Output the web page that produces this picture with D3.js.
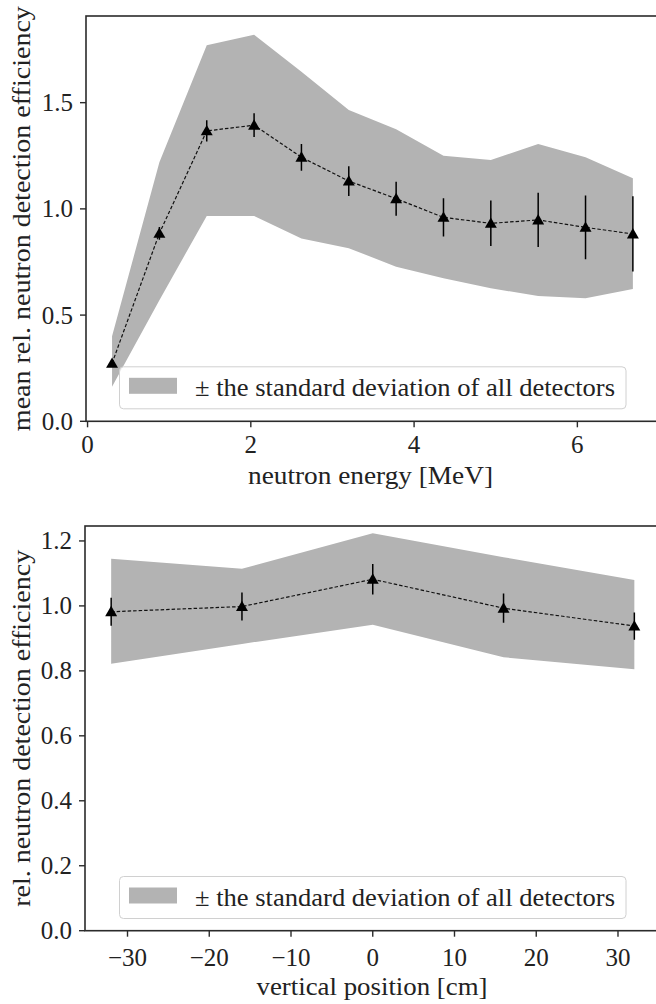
<!DOCTYPE html>
<html>
<head>
<meta charset="utf-8">
<script src="https://cdn.jsdelivr.net/npm/d3@7"></script>
<style>
  html, body { margin: 0; padding: 0; background: #fff; }
  svg { display: block; }
</style>
</head>
<body>
<svg id="chart" width="656" height="1004"></svg>
<script>
// ---------- data: top panel (energy dependence) ----------
const energy = [0.3, 0.88, 1.46, 2.04, 2.62, 3.2, 3.78, 4.36, 4.94, 5.52, 6.1, 6.68];
const energyMean = [0.273, 0.885, 1.367, 1.394, 1.243, 1.131, 1.048, 0.960, 0.932, 0.948, 0.913, 0.882];
const energyErr = [0.012, 0.03, 0.05, 0.056, 0.063, 0.07, 0.08, 0.09, 0.107, 0.128, 0.15, 0.177];
const energyUpper = [0.40, 1.22, 1.77, 1.82, 1.645, 1.466, 1.375, 1.25, 1.23, 1.305, 1.243, 1.144];
const energyLower = [0.163, 0.57, 0.967, 0.967, 0.86, 0.815, 0.728, 0.673, 0.626, 0.59, 0.579, 0.623];
const energyTicksX = [0, 2, 4, 6];
const energyTicksY = [0.0, 0.5, 1.0, 1.5];

// ---------- data: bottom panel (vertical position dependence) ----------
const position = [-32, -16, 0, 16, 32];
const positionMean = [0.982, 0.998, 1.082, 0.993, 0.938];
const positionErr = [0.043, 0.043, 0.047, 0.045, 0.042];
const positionUpper = [1.145, 1.114, 1.224, 1.15, 1.08];
const positionLower = [0.822, 0.883, 0.942, 0.842, 0.805];
const positionTicksX = [-30, -20, -10, 0, 10, 20, 30];
const positionTicksY = [0.0, 0.2, 0.4, 0.6, 0.8, 1.0, 1.2];

const legendText = "\u00B1 the standard deviation of all detectors";

const svg = d3.select("#chart");
const FONT = 25;
const FAMILY = "Liberation Serif";
const BAND = "#b3b3b3";
const AXIS = "#2b2b2b";

function txt(sel) {
  return sel.append("text").attr("font-family", FAMILY).attr("font-size", FONT).attr("fill", "#222");
}

function panel(cfg) {
  const g = svg.append("g");
  const x = d3.scaleLinear().domain(cfg.xDomain).range([cfg.left, cfg.right]);
  const y = d3.scaleLinear().domain(cfg.yDomain).range([cfg.bottom, cfg.top]);
  const pts = cfg.xs.map((v, i) => ({
    x: v, m: cfg.mean[i], e: cfg.err[i], lo: cfg.lower[i], hi: cfg.upper[i]
  }));

  const clipId = "clip" + cfg.id;
  svg.append("clipPath").attr("id", clipId).append("rect")
    .attr("x", cfg.left).attr("y", cfg.top)
    .attr("width", cfg.right - cfg.left).attr("height", cfg.bottom - cfg.top);
  const plot = g.append("g").attr("clip-path", `url(#${clipId})`);

  plot.append("path")
    .datum(pts)
    .attr("fill", BAND)
    .attr("d", d3.area().x(d => x(d.x)).y0(d => y(d.lo)).y1(d => y(d.hi)));

  plot.append("path")
    .datum(pts)
    .attr("fill", "none")
    .attr("stroke", "#111")
    .attr("stroke-width", 1.2)
    .attr("stroke-dasharray", "3.5,2")
    .attr("d", d3.line().x(d => x(d.x)).y(d => y(d.m)));

  plot.selectAll(".eb").data(pts).enter().append("line")
    .attr("x1", d => x(d.x)).attr("x2", d => x(d.x))
    .attr("y1", d => y(d.m - d.e)).attr("y2", d => y(d.m + d.e))
    .attr("stroke", "#000").attr("stroke-width", 1.5);

  const tri = d3.symbol().type(d3.symbolTriangle).size(62);
  plot.selectAll(".mk").data(pts).enter().append("path")
    .attr("d", tri)
    .attr("transform", d => `translate(${x(d.x)},${y(d.m) + 1})`)
    .attr("fill", "#000");

  const xt = g.append("g");
  cfg.xTicks.forEach(t => {
    xt.append("line").attr("x1", x(t)).attr("x2", x(t))
      .attr("y1", cfg.bottom).attr("y2", cfg.bottom + 6)
      .attr("stroke", AXIS).attr("stroke-width", 1.4);
    txt(xt).attr("x", x(t)).attr("y", cfg.bottom + cfg.xTickPad)
      .attr("text-anchor", "middle")
      .text(t < 0 ? "\u2212" + Math.abs(t) : String(t));
  });
  const yt = g.append("g");
  cfg.yTicks.forEach(t => {
    yt.append("line").attr("x1", cfg.left - 6).attr("x2", cfg.left)
      .attr("y1", y(t)).attr("y2", y(t))
      .attr("stroke", AXIS).attr("stroke-width", 1.4);
    txt(yt).attr("x", cfg.left - 13).attr("y", y(t) + 8.5)
      .attr("text-anchor", "end")
      .text(t.toFixed(1));
  });

  g.append("rect")
    .attr("x", cfg.left).attr("y", cfg.top)
    .attr("width", cfg.right - cfg.left).attr("height", cfg.bottom - cfg.top)
    .attr("fill", "none").attr("stroke", AXIS).attr("stroke-width", 1.6);

  txt(g)
    .attr("x", cfg.xLabelX).attr("y", cfg.xLabelY)
    .attr("text-anchor", "middle")
    .attr("textLength", cfg.xLabelLen).attr("lengthAdjust", "spacingAndGlyphs")
    .text(cfg.xLabel);
  txt(g)
    .attr("transform", `translate(30,${(cfg.top + cfg.bottom) / 2}) rotate(-90)`)
    .attr("text-anchor", "middle")
    .attr("textLength", cfg.yLabelLen).attr("lengthAdjust", "spacingAndGlyphs")
    .text(cfg.yLabel);

  const lg = g.append("g").attr("transform", `translate(119.5,${cfg.legendTop})`);
  lg.append("rect").attr("width", 506.5).attr("height", 42).attr("rx", 4)
    .attr("fill", "#fff").attr("fill-opacity", 0.8)
    .attr("stroke", "#d0d0d0").attr("stroke-width", 1);
  lg.append("rect").attr("x", 9.5).attr("y", 11).attr("width", 48).attr("height", 16)
    .attr("fill", BAND);
  txt(lg).attr("x", 75.5).attr("y", 29)
    .attr("textLength", 420).attr("lengthAdjust", "spacingAndGlyphs")
    .text(legendText);
}

panel({
  id: "top",
  left: 86, right: 659, top: 16, bottom: 421.3,
  xDomain: [-0.019, 7.0], yDomain: [0, 1.908],
  xs: energy, mean: energyMean, err: energyErr, upper: energyUpper, lower: energyLower,
  xTicks: energyTicksX, yTicks: energyTicksY, xTickPad: 32,
  xLabel: "neutron energy [MeV]", xLabelX: 370.5, xLabelY: 484, xLabelLen: 245,
  yLabel: "mean rel. neutron detection efficiency", yLabelLen: 425,
  legendTop: 366.8
});

panel({
  id: "bottom",
  left: 85, right: 660.5, top: 526, bottom: 930.7,
  xDomain: [-35.2, 35.2], yDomain: [0, 1.246],
  xs: position, mean: positionMean, err: positionErr, upper: positionUpper, lower: positionLower,
  xTicks: positionTicksX, yTicks: positionTicksY, xTickPad: 35,
  xLabel: "vertical position [cm]", xLabelX: 372, xLabelY: 995, xLabelLen: 231,
  yLabel: "rel. neutron detection efficiency", yLabelLen: 357,
  legendTop: 876.5
});
</script>
</body>
</html>
